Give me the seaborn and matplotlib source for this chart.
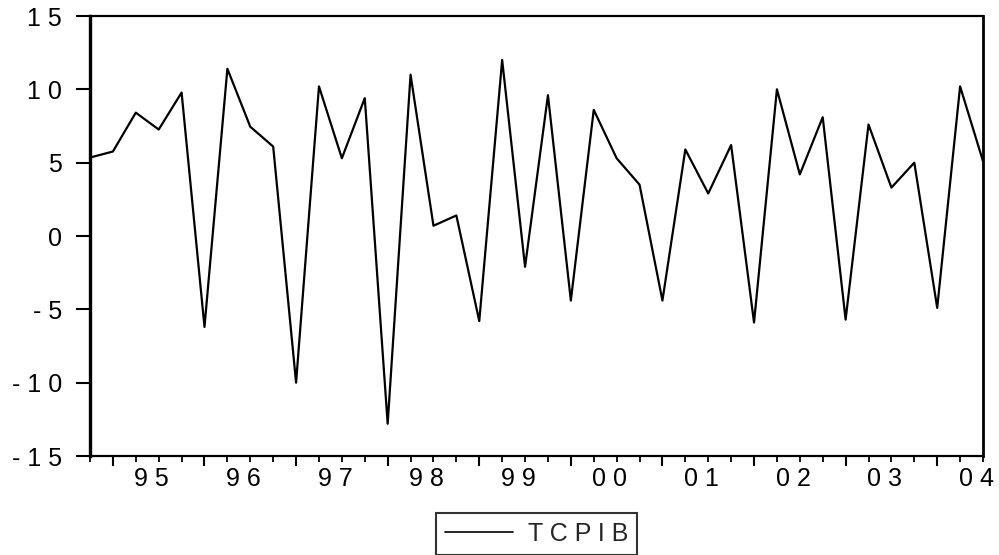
import numpy as np
import pandas as pd
import seaborn as sns
import matplotlib
matplotlib.use("Agg")
import matplotlib.pyplot as plt
import matplotlib.transforms as mtransforms
from matplotlib.ticker import FixedLocator

# ---- data (quarterly, 1994Q4 .. 2004Q3) ----
quarters = [f"{y}Q{q}" for y in range(1994, 2005) for q in range(1, 5)][3:43]
tcpib = [5.35, 5.76, 8.41, 7.26, 9.78, -6.2, 11.4, 7.45, 6.1, -10.0,
         10.2, 5.3, 9.4, -12.8, 11.0, 0.7, 1.4, -5.8, 12.0, -2.1,
         9.6, -4.4, 8.6, 5.3, 3.5, -4.4, 5.9, 2.9, 6.2, -5.9,
         10.0, 4.2, 8.1, -5.7, 7.6, 3.3, 5.0, -4.9, 10.2, 5.1]
year_labels = ["9 5", "9 6", "9 7", "9 8", "9 9", "0 0", "0 1", "0 2", "0 3", "0 4"]
y_ticks = [-15, -10, -5, 0, 5, 10, 15]
y_tick_labels = ["- 1 5", "- 1 0", "- 5", "0", "5", "1 0", "1 5"]
series_name = "T C P I B"

df = pd.DataFrame({"t": np.arange(len(tcpib)), "value": tcpib,
                   "quarter": quarters, "series": series_name})

sns.set_theme(style="white")
plt.rcParams["font.family"] = ["Liberation Sans", "DejaVu Sans"]
FS = 18

fig = plt.figure(figsize=(9.99, 5.55), dpi=100)
ax = fig.add_axes([90 / 999, 1 - 456 / 555, (983 - 90) / 999, (456 - 16) / 555])

sns.lineplot(data=df, x="t", y="value", hue="series", palette=["black"],
             linewidth=1.6, ax=ax, legend=True)

ax.set_xlim(0, len(tcpib) - 1)
ax.set_ylim(-15, 15)
ax.set_xlabel("")
ax.set_ylabel("")

# y axis
ax.set_yticks(y_ticks)
ax.set_yticklabels(y_tick_labels, fontsize=FS, color="black")
ax.tick_params(axis="y", which="major", direction="out", length=10, width=1.5,
               pad=10, left=True, color="black")

# x axis: major ticks at year starts (Q1), minor at every quarter
q1_idx = [i for i, q in enumerate(quarters) if q.endswith("Q1")]
ax.xaxis.set_major_locator(FixedLocator(q1_idx))
ax.xaxis.set_minor_locator(FixedLocator([i for i in range(len(quarters)) if i not in q1_idx]))
ax.set_xticklabels([""] * len(q1_idx))
ax.tick_params(axis="x", which="major", direction="out", length=7.5, width=1.5,
               bottom=True, color="black")
ax.tick_params(axis="x", which="minor", direction="out", length=4, width=1.3,
               bottom=True, color="black")

trans = mtransforms.blended_transform_factory(ax.transData, ax.transAxes)
for k, lab in enumerate(year_labels):
    ax.text(q1_idx[k] + 1.7, -0.025, lab, transform=trans, ha="center", va="top",
            fontsize=FS, color="black", clip_on=False)

for side, lw in [("left", 2.4), ("bottom", 1.6), ("top", 1.6), ("right", 2.0)]:
    ax.spines[side].set_visible(True)
    ax.spines[side].set_color("black")
    ax.spines[side].set_linewidth(lw)
ax.grid(False)

# legend
leg = ax.legend(loc="upper center", bbox_to_anchor=(0.5, -0.13), borderaxespad=0,
                frameon=True, fancybox=False, edgecolor="black", fontsize=FS,
                handlelength=2.7, handletextpad=0.6, borderpad=0.35, title=None)
leg.get_frame().set_linewidth(1.5)
for line in leg.get_lines():
    line.set_linewidth(1.2)

fig.savefig("out.png", dpi=100, facecolor="white")
